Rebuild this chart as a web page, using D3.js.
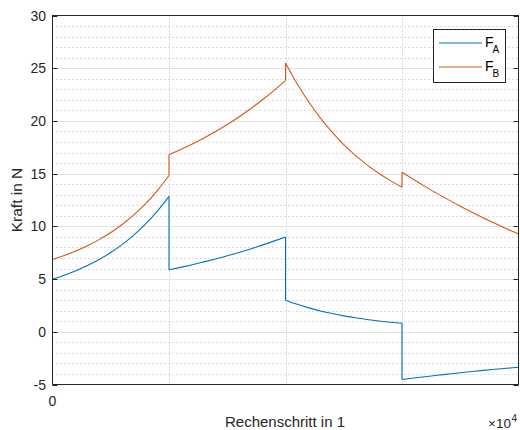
<!DOCTYPE html>
<html>
<head>
<meta charset="utf-8">
<script src="https://cdn.jsdelivr.net/npm/d3@7"></script>
<style>
  body { margin: 0; background: #fff; }
  svg { display: block; font-family: "Liberation Sans", Arial, Helvetica, sans-serif; }
</style>
</head>
<body>
<svg id="chart" width="520" height="430"></svg>
<script>
// Rechenschritt (computation step); repeated values mark the jumps between phases
const steps = [
  0, 1000, 2000, 3000, 4000, 5000, 6000, 7000, 8000, 9000, 10000,
  10000, 11000, 12000, 13000, 14000, 15000, 16000, 17000, 18000, 19000, 20000,
  20000, 21000, 22000, 23000, 24000, 25000, 26000, 27000, 28000, 29000, 30000,
  30000, 31000, 32000, 33000, 34000, 35000, 36000, 37000, 38000, 39000, 40000
];

// Force F_A in N
const forceA = [
  5.00, 5.36, 5.79, 6.28, 6.85, 7.52, 8.29, 9.19, 10.23, 11.44, 12.84,
  5.88, 6.11, 6.36, 6.63, 6.91, 7.21, 7.52, 7.86, 8.22, 8.60, 9.00,
  3.00, 2.61, 2.27, 1.98, 1.73, 1.51, 1.33, 1.17, 1.03, 0.91, 0.81,
  -4.53, -4.39, -4.26, -4.13, -4.01, -3.89, -3.77, -3.66, -3.56, -3.46, -3.36
];

// Force F_B in N
const forceB = [
  6.86, 7.23, 7.66, 8.16, 8.74, 9.41, 10.20, 11.11, 12.16, 13.39, 14.82,
  16.80, 17.29, 17.82, 18.39, 19.00, 19.66, 20.38, 21.15, 21.98, 22.88, 23.85,
  25.50, 23.53, 21.79, 20.27, 18.94, 17.76, 16.73, 15.83, 15.03, 14.34, 13.72,
  15.14, 14.44, 13.77, 13.13, 12.51, 11.91, 11.34, 10.79, 10.27, 9.76, 9.27
];

const seriesSubscripts = ["A", "B"];
const seriesColors = ["#0072BD", "#D95319"];

const yTicks = [-5, 0, 5, 10, 15, 20, 25, 30];
const yMinorTicks = d3.range(-5, 31, 1);
const xTicks = [0];
const xMinorTicks = [10000, 20000, 30000];
const xDomain = [0, 40000];
const yDomain = [-5, 30];

const svg = d3.select("#chart");
const plotLeft = 52.5, plotRight = 518.5, plotTop = 15.5, plotBottom = 384.5;

const x = d3.scaleLinear().domain(xDomain).range([plotLeft, plotRight]);
const y = d3.scaleLinear().domain(yDomain).range([plotBottom, plotTop]);

const textColor = "#262626";
const axisColor = "#262626";

// plot background
svg.append("rect")
  .attr("x", plotLeft).attr("y", plotTop)
  .attr("width", plotRight - plotLeft).attr("height", plotBottom - plotTop)
  .attr("fill", "#fff");

// minor grid (dotted)
const grid = svg.append("g");
grid.selectAll(".ymin").data(yMinorTicks.filter(v => v % 5 !== 0)).join("line")
  .attr("x1", plotLeft).attr("x2", plotRight)
  .attr("y1", d => Math.round(y(d)) + 0.5).attr("y2", d => Math.round(y(d)) + 0.5)
  .attr("stroke", "#b9b9b9").attr("stroke-width", 1)
  .attr("stroke-dasharray", "1,3");
grid.selectAll(".xmin").data(xMinorTicks).join("line")
  .attr("x1", d => Math.round(x(d)) + 0.5).attr("x2", d => Math.round(x(d)) + 0.5)
  .attr("y1", plotTop).attr("y2", plotBottom)
  .attr("stroke", "#b9b9b9").attr("stroke-width", 1)
  .attr("stroke-dasharray", "1,2");

// major grid (solid, light)
grid.selectAll(".ymaj").data(yTicks.slice(1, -1)).join("line")
  .attr("x1", plotLeft).attr("x2", plotRight)
  .attr("y1", d => Math.round(y(d)) + 0.5).attr("y2", d => Math.round(y(d)) + 0.5)
  .attr("stroke", "#e2e2e2").attr("stroke-width", 1);

// split the series into continuous phases at repeated steps
const runs = [];
let current = [0];
for (let i = 1; i < steps.length; i++) {
  if (steps[i] === steps[i - 1]) { runs.push(current); current = [i]; }
  else current.push(i);
}
runs.push(current);

const smooth = d3.line().x(i => x(steps[i])).curve(d3.curveMonotoneX);
const straight = d3.line().x(i => x(steps[i]));

const plot = svg.append("g");
[forceA, forceB].forEach((vals, s) => {
  const g = plot.append("g")
    .attr("fill", "none")
    .attr("stroke", seriesColors[s])
    .attr("stroke-width", 1.1)
    .attr("stroke-linejoin", "round");
  smooth.y(i => y(vals[i]));
  straight.y(i => y(vals[i]));
  runs.forEach((run, r) => {
    g.append("path").attr("d", smooth(run));
    if (r > 0) {
      const prev = runs[r - 1];
      g.append("path").attr("d", straight([prev[prev.length - 1], run[0]]));
    }
  });
});

// axes box
svg.append("rect")
  .attr("x", plotLeft).attr("y", plotTop)
  .attr("width", plotRight - plotLeft).attr("height", plotBottom - plotTop)
  .attr("fill", "none").attr("stroke", axisColor).attr("stroke-width", 1);

// tick marks (inward, both sides)
const tickLen = 5;
const ticks = svg.append("g").attr("stroke", axisColor).attr("stroke-width", 1);
yTicks.forEach(v => {
  const yy = Math.round(y(v)) + 0.5;
  ticks.append("line").attr("x1", plotLeft).attr("x2", plotLeft + tickLen).attr("y1", yy).attr("y2", yy);
  ticks.append("line").attr("x1", plotRight - tickLen).attr("x2", plotRight).attr("y1", yy).attr("y2", yy);
});
xTicks.forEach(v => {
  const xx = x(v);
  ticks.append("line").attr("x1", xx).attr("x2", xx).attr("y1", plotBottom).attr("y2", plotBottom - tickLen);
  ticks.append("line").attr("x1", xx).attr("x2", xx).attr("y1", plotTop).attr("y2", plotTop + tickLen);
});

// tick labels
svg.append("g").selectAll("text").data(yTicks).join("text")
  .attr("x", 46).attr("y", d => y(d)).attr("dy", "0.36em")
  .attr("text-anchor", "end").attr("font-size", 14).attr("fill", textColor)
  .text(d => d);
svg.append("g").selectAll("text").data(xTicks).join("text")
  .attr("x", d => x(d)).attr("y", 405.5)
  .attr("text-anchor", "middle").attr("font-size", 14).attr("fill", textColor)
  .text(d => d);

// exponent marker of the x axis
svg.append("text").attr("x", 511).attr("y", 428)
  .attr("text-anchor", "end").attr("font-size", 13.5).attr("fill", textColor)
  .text("\u00d710");
svg.append("text").attr("x", 511.5).attr("y", 422)
  .attr("font-size", 10).attr("fill", textColor)
  .text("4");

// axis titles
svg.append("text").attr("x", 285).attr("y", 426.5)
  .attr("text-anchor", "middle").attr("font-size", 15).attr("fill", textColor)
  .text("Rechenschritt in 1");
svg.append("text")
  .attr("transform", "translate(21.5,200) rotate(-90)")
  .attr("text-anchor", "middle").attr("font-size", 15.5).attr("fill", textColor)
  .text("Kraft in N");

// legend
const legend = svg.append("g");
legend.append("rect")
  .attr("x", 433.5).attr("y", 29.5).attr("width", 72).attr("height", 53)
  .attr("fill", "#fff").attr("stroke", axisColor).attr("stroke-width", 1);
seriesSubscripts.forEach((sub, s) => {
  const ly = 43 + s * 24;
  legend.append("line")
    .attr("x1", 439).attr("x2", 482).attr("y1", ly).attr("y2", ly)
    .attr("stroke", seriesColors[s]).attr("stroke-width", 1.1);
  legend.append("text").attr("x", 485).attr("y", ly + 3.5)
    .attr("font-size", 14).attr("fill", "#000").text("F");
  legend.append("text").attr("x", 492.5).attr("y", ly + 9.5)
    .attr("font-size", 10).attr("fill", "#000").text(sub);
});
</script>
</body>
</html>
